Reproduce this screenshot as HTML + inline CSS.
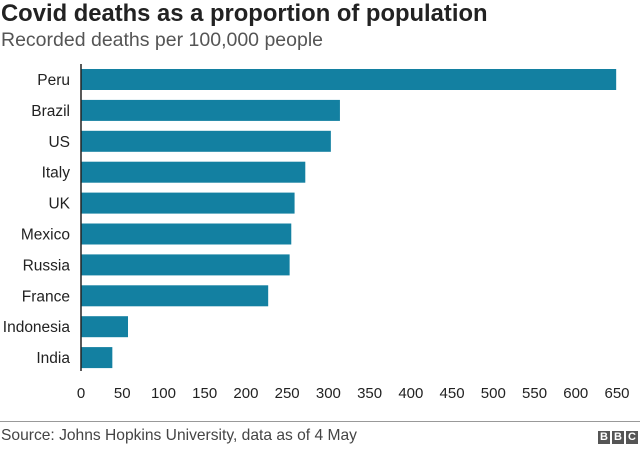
<!DOCTYPE html>
<html><head><meta charset="utf-8"><style>
body{margin:0;width:640px;height:450px;background:#fff;font-family:"Liberation Sans",Arial,sans-serif;overflow:hidden;position:relative}
#title{position:absolute;left:1px;top:0px;font-size:23.8px;font-weight:bold;color:#222;white-space:nowrap}
#sub{position:absolute;left:1px;top:29px;font-size:19.5px;color:#555;white-space:nowrap}
#foot{position:absolute;left:0;top:421px;width:640px;border-top:1px solid #999}
#src{position:absolute;left:1px;top:427px;font-size:15.6px;color:#444;white-space:nowrap}
#bbc{position:absolute;right:2px;top:431px;display:flex;gap:2px}
#bbc span{background:#555;color:#fff;font-weight:bold;font-size:11px;width:12px;height:13px;line-height:13px;text-align:center}
</style></head><body>
<div id="title">Covid deaths as a proportion of population</div>
<div id="sub">Recorded deaths per 100,000 people</div>
<svg id="chart" width="640" height="420" style="position:absolute;left:0;top:0"></svg>
<div id="foot"></div>
<div id="src">Source: Johns Hopkins University, data as of 4 May</div>
<div id="bbc"><span>B</span><span>B</span><span>C</span></div>
<script>
const categories=["Peru","Brazil","US","Italy","UK","Mexico","Russia","France","Indonesia","India"];
const values=[649,314,303,272,259,255,253,227,57,38];
const ticks=[0,50,100,150,200,250,300,350,400,450,500,550,600,650];
const svg=document.getElementById('chart');
const NS='http://www.w3.org/2000/svg';
const x0=81,x1=617,vmax=650;
const xs=v=>x0+(v/vmax)*(x1-x0);
const yTop=69,step=30.9,bh=21;
const ys=i=>yTop+i*step;
function mk(t,a){const e=document.createElementNS(NS,t);for(const k in a)e.setAttribute(k,a[k]);svg.appendChild(e);return e;}
categories.forEach((c,i)=>{
  const r=mk('rect',{x:x0,y:ys(i),width:xs(values[i])-x0,height:bh,fill:'#1380a1'});
  
  
  const t=mk('text',{x:70,y:ys(i)+bh/2+5.5,'text-anchor':'end','font-size':15.5,fill:'#222','font-family':'Liberation Sans, sans-serif'});
  t.textContent=c;
  
  
});
const ax=mk('line',{x1:x0,x2:x0,y1:64,y2:371,stroke:'#222','stroke-width':1.5});


ticks.forEach(v=>{
  const t=mk('text',{x:xs(v),y:398,'text-anchor':'middle','font-size':15,fill:'#222','font-family':'Liberation Sans, sans-serif'});
  t.textContent=v;
  
  
});
</script>
</body></html>
